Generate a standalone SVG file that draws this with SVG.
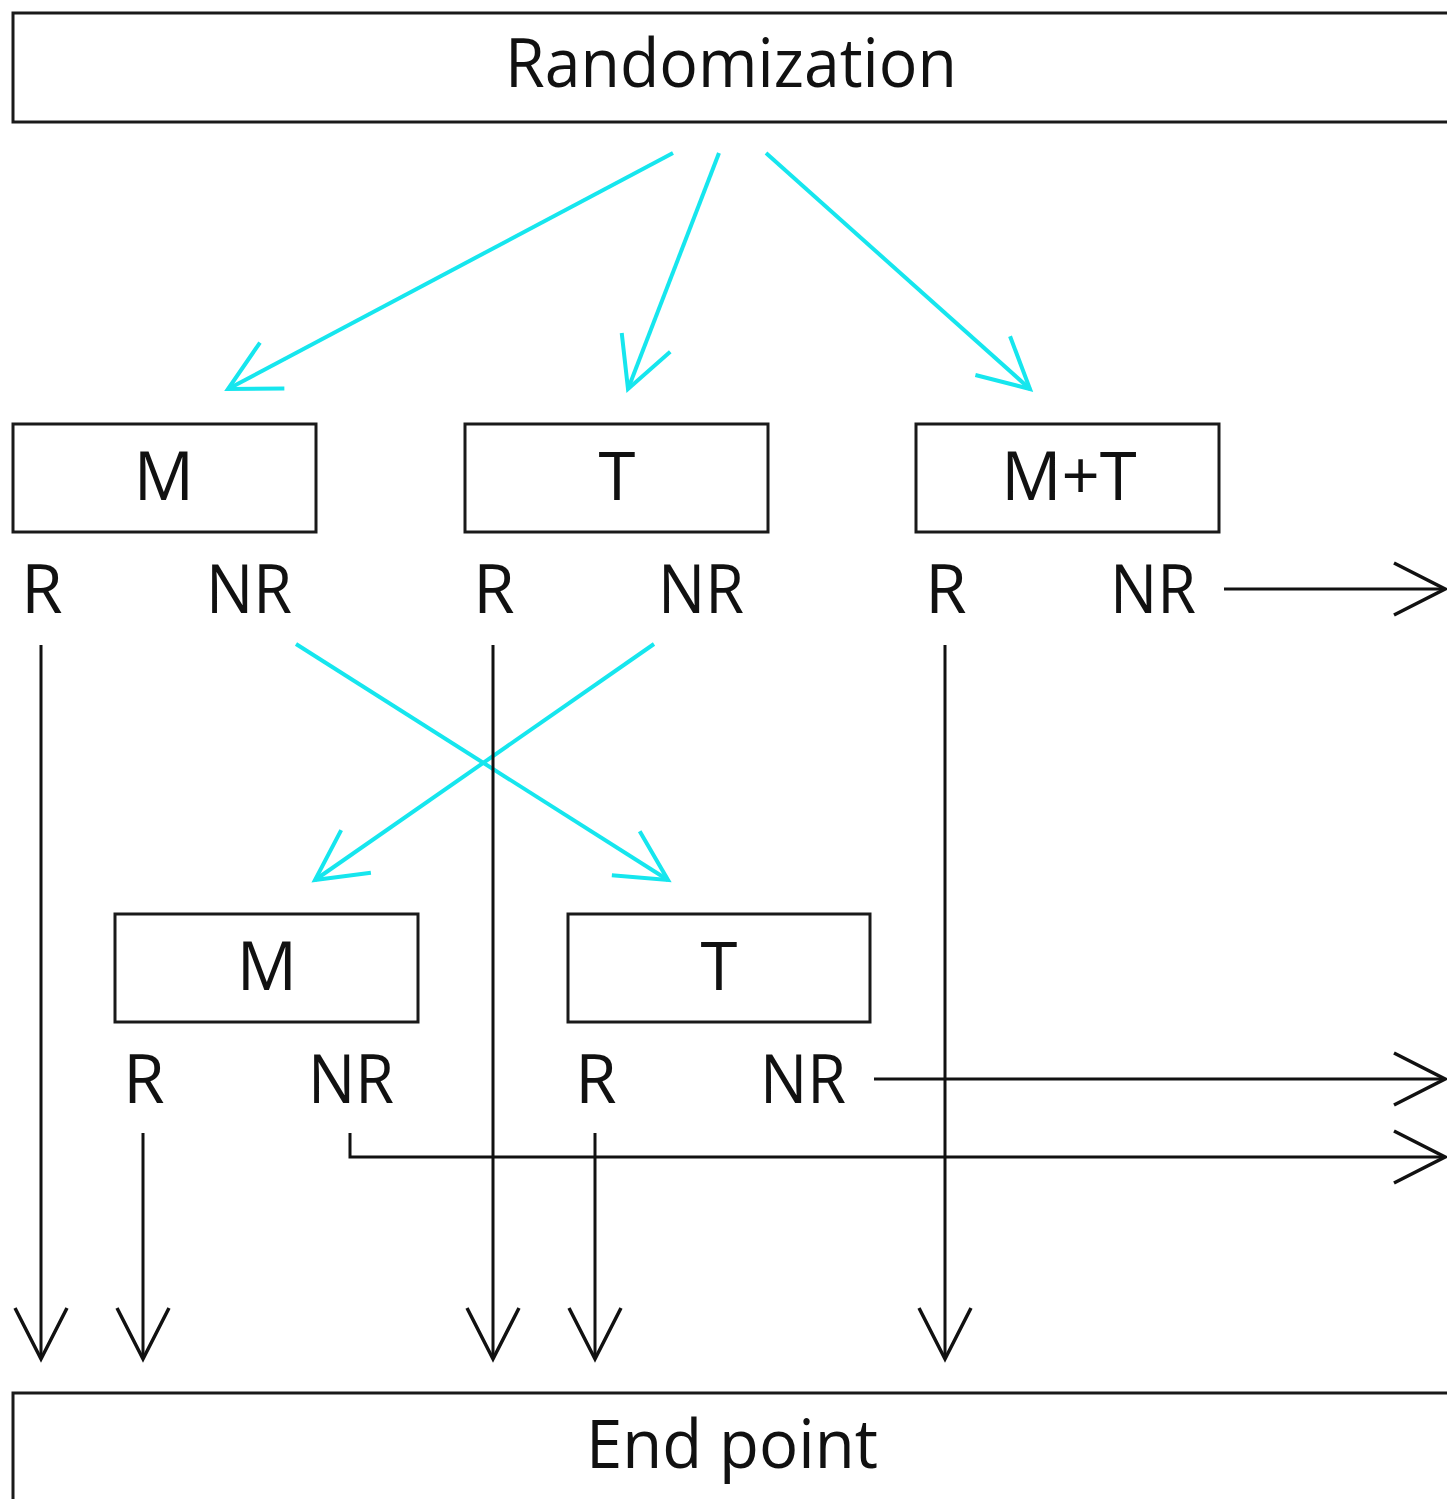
<svg xmlns="http://www.w3.org/2000/svg" width="1447" height="1499" viewBox="0 0 1447 1499">
  <style>
    .box { fill: #ffffff; stroke: #1a1a1a; stroke-width: 3; }
    .lbl { font-family: "Open Sans", "Noto Sans", "DejaVu Sans", sans-serif; font-size: 67px; fill: #111111; text-anchor: middle; }
    .blk { fill: none; stroke: #111111; stroke-width: 3; marker-end: url(#ahBlack); }
    .cy { fill: none; stroke: #16E6EE; stroke-width: 4; marker-end: url(#ahCyan); }
    .plain { fill: none; stroke: #111111; stroke-width: 3; }
  </style>
  <defs>
    <marker id="ahBlack" markerUnits="userSpaceOnUse" markerWidth="60" markerHeight="60" refX="0" refY="0" orient="auto" overflow="visible">
      <path d="M -51,-26 L 0,0 L -51,26" fill="none" stroke="#111111" stroke-width="3.5" stroke-linejoin="miter"/>
    </marker>
    <marker id="ahCyan" markerUnits="userSpaceOnUse" markerWidth="60" markerHeight="60" refX="0" refY="0" orient="auto" overflow="visible">
      <path d="M -50,-26 L 0,0 L -50,26" fill="none" stroke="#16E6EE" stroke-width="4" stroke-linejoin="miter"/>
    </marker>
  </defs>
  <rect x="0" y="0" width="1447" height="1499" fill="#ffffff"/>

  <g id="connectors">
    <!-- cyan randomization arrows -->
    <line class="cy" x1="673" y1="153" x2="228" y2="389"/>
    <line class="cy" x1="719" y1="153" x2="628" y2="389"/>
    <line class="cy" x1="766" y1="153" x2="1030" y2="389"/>
    <!-- cyan crossover arrows -->
    <line class="cy" x1="296" y1="644" x2="668" y2="880"/>
    <line class="cy" x1="654" y1="644" x2="315" y2="880"/>
    <!-- black vertical arrows to end point -->
    <line class="blk" x1="41" y1="645" x2="41" y2="1359"/>
    <line class="blk" x1="493" y1="645" x2="493" y2="1359"/>
    <line class="blk" x1="945" y1="645" x2="945" y2="1359"/>
    <line class="blk" x1="143" y1="1133" x2="143" y2="1359"/>
    <line class="blk" x1="595" y1="1133" x2="595" y2="1359"/>
    <!-- horizontal exits -->
    <line class="blk" x1="1224" y1="589" x2="1445" y2="589"/>
    <line class="blk" x1="874" y1="1079" x2="1445" y2="1079"/>
    <polyline class="blk" points="350,1133 350,1157 1445,1157"/>
  </g>

  <g id="randomization">
    <rect class="box" x="13" y="13" width="1460" height="109"/>
    <text class="lbl" x="731" y="87" font-size="71" textLength="452" lengthAdjust="spacingAndGlyphs">Randomization</text>
  </g>

  <g id="m1">
    <rect class="box" x="13" y="424" width="303" height="108"/>
    <text class="lbl" x="164" y="500">M</text>
    <text class="lbl" x="42" y="613">R</text>
    <text class="lbl" x="249" y="613" textLength="86" lengthAdjust="spacingAndGlyphs">NR</text>
  </g>

  <g id="t1">
    <rect class="box" x="465" y="424" width="303" height="108"/>
    <text class="lbl" x="617" y="500">T</text>
    <text class="lbl" x="494" y="613">R</text>
    <text class="lbl" x="701" y="613" textLength="86" lengthAdjust="spacingAndGlyphs">NR</text>
  </g>

  <g id="mt1">
    <rect class="box" x="916" y="424" width="303" height="108"/>
    <text class="lbl" x="1069" y="500">M+T</text>
    <text class="lbl" x="946" y="613">R</text>
    <text class="lbl" x="1153" y="613" textLength="86" lengthAdjust="spacingAndGlyphs">NR</text>
  </g>

  <g id="m2">
    <rect class="box" x="115" y="914" width="303" height="108"/>
    <text class="lbl" x="267" y="990">M</text>
    <text class="lbl" x="144" y="1103">R</text>
    <text class="lbl" x="351" y="1103" textLength="86" lengthAdjust="spacingAndGlyphs">NR</text>
  </g>

  <g id="t2">
    <rect class="box" x="568" y="914" width="302" height="108"/>
    <text class="lbl" x="719" y="990">T</text>
    <text class="lbl" x="596" y="1103">R</text>
    <text class="lbl" x="803" y="1103" textLength="86" lengthAdjust="spacingAndGlyphs">NR</text>
  </g>

  <g id="endpoint">
    <rect class="box" x="13" y="1393" width="1460" height="110"/>
    <text class="lbl" x="732" y="1468" textLength="292" lengthAdjust="spacingAndGlyphs">End point</text>
  </g>
</svg>
